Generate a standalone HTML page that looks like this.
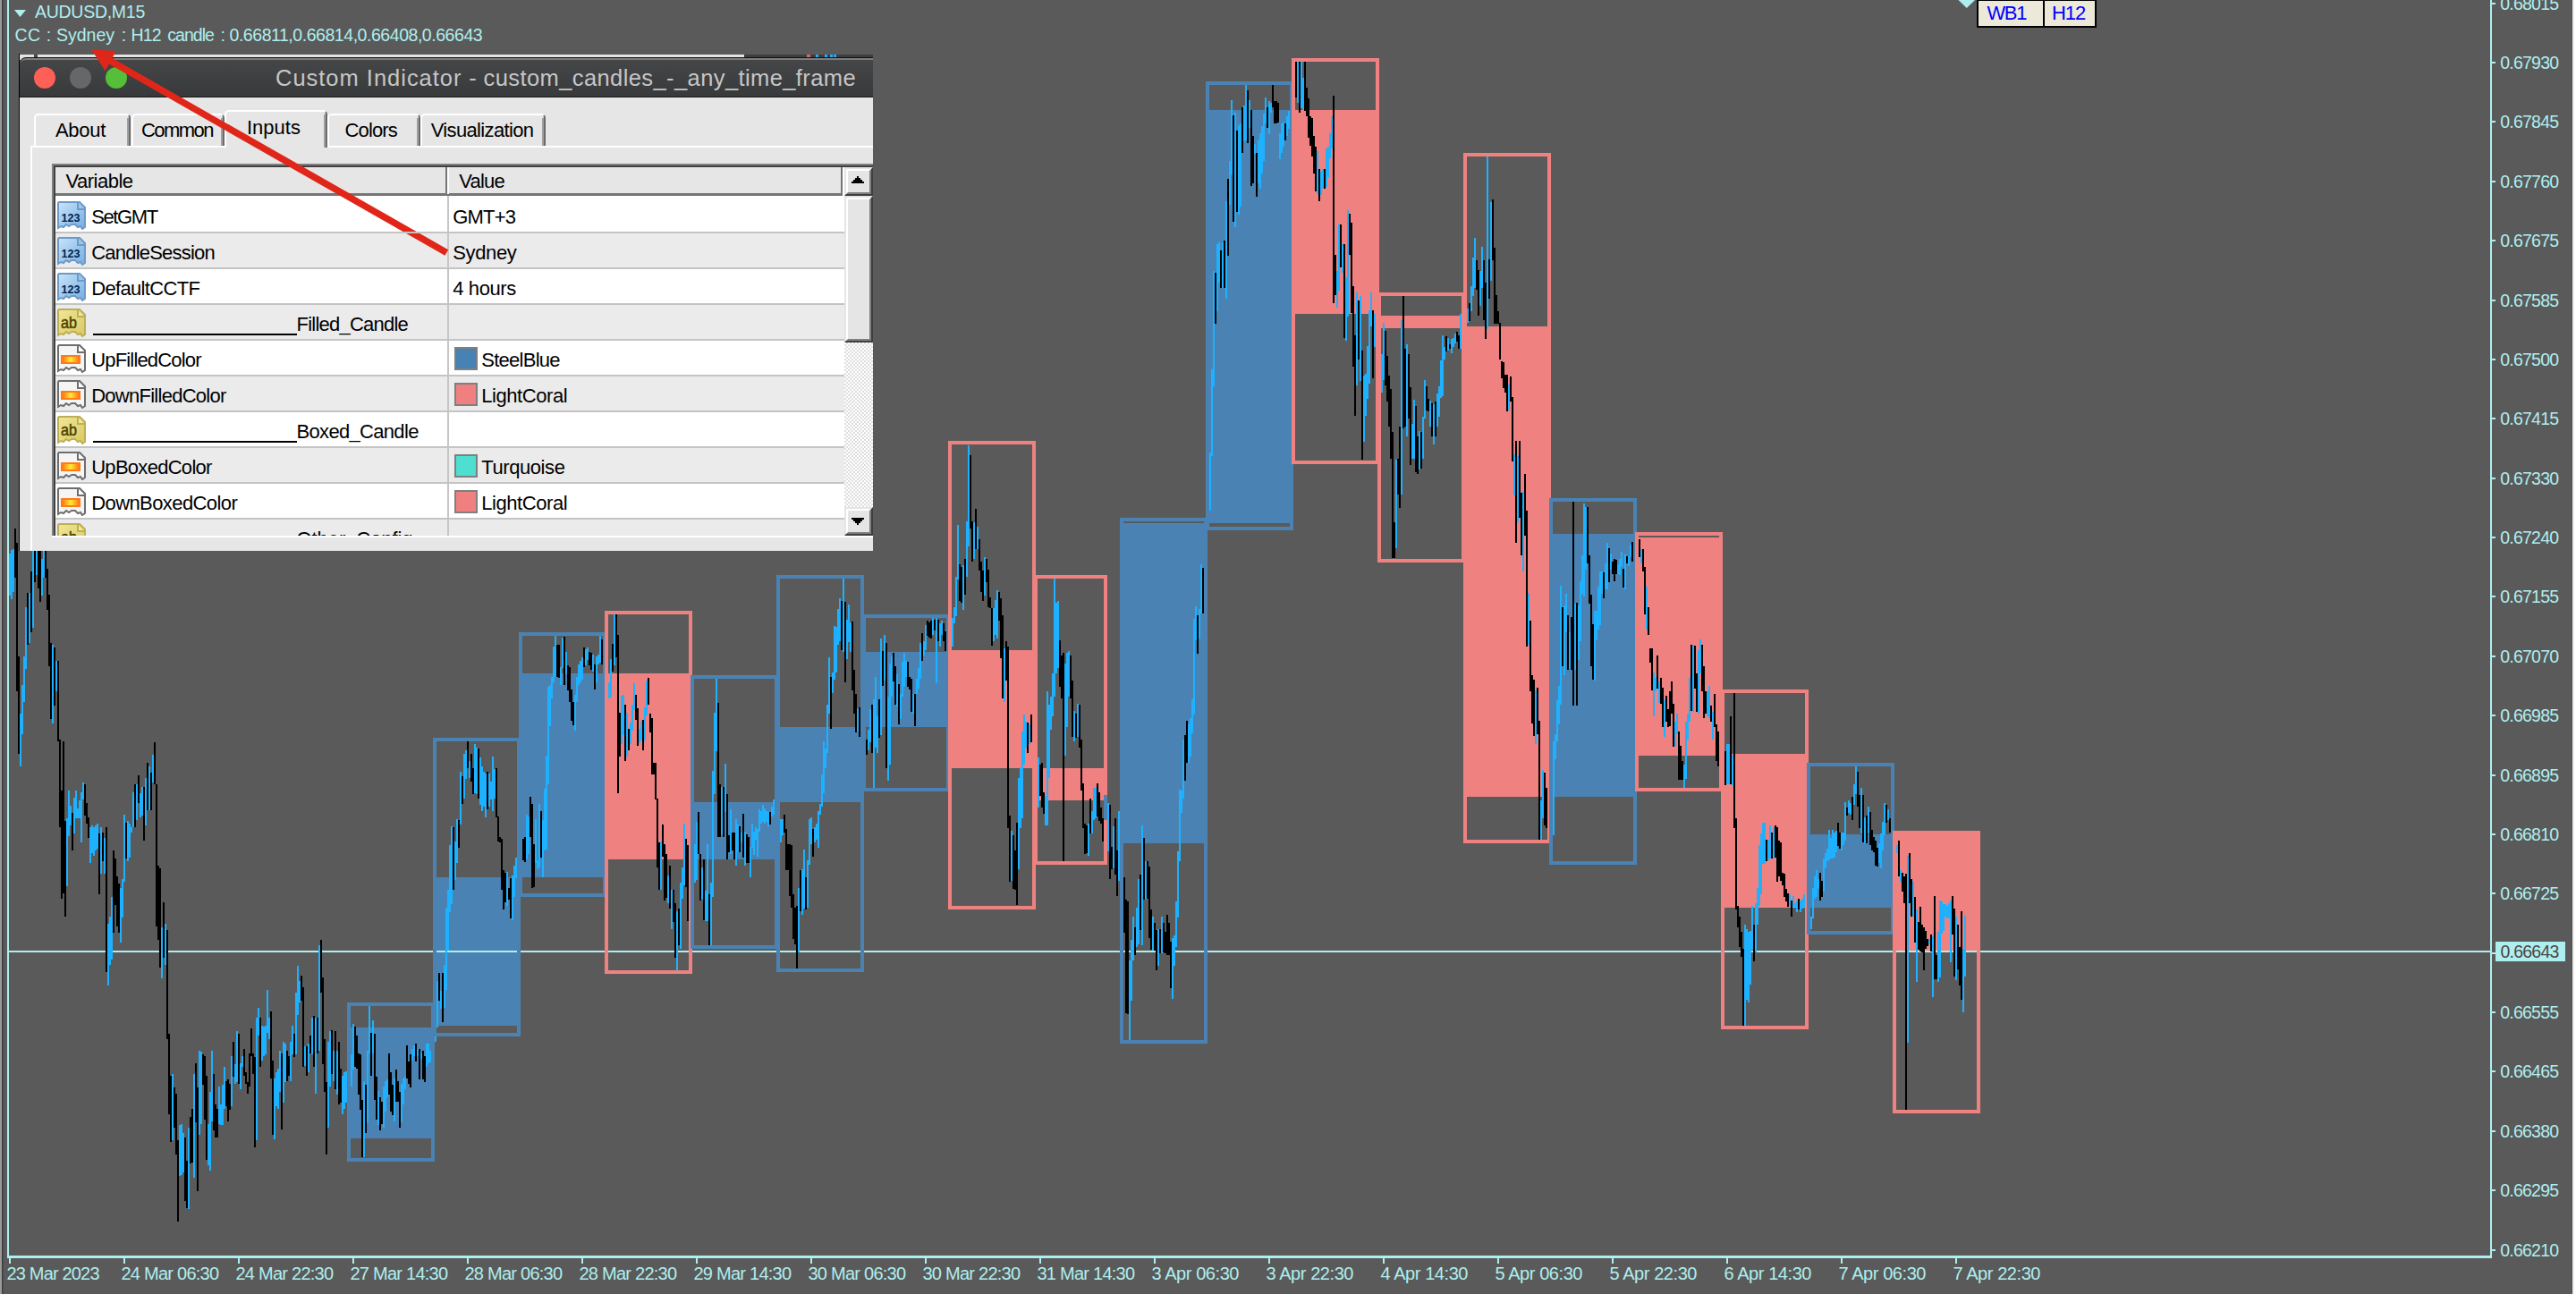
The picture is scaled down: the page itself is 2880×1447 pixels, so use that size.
<!DOCTYPE html>
<html><head><meta charset="utf-8"><title>AUDUSD,M15</title>
<style>

html,body{margin:0;padding:0;background:#5a5a5a;}
body{width:2880px;height:1447px;position:relative;overflow:hidden;font-family:"Liberation Sans",sans-serif;}
.abs{position:absolute;}
.t{position:absolute;white-space:nowrap;font-family:"Liberation Sans",sans-serif;}


.dlg{position:absolute;left:0;top:0;}
.row{position:absolute;left:62px;width:882px;height:38px;}
.sep{position:absolute;left:62px;width:882px;height:2px;background:#c6c6c6;}
.tab{position:absolute;background:#e6e6e6;box-sizing:border-box;border-top:2px solid #fff;border-left:2px solid #fff;border-right:2px solid #6a6a6a;border-top-left-radius:5px;border-top-right-radius:5px;}
.tab:after{content:"";position:absolute;right:0;top:3px;bottom:0;width:2px;background:#a0a0a0;}
.sw{position:absolute;left:508px;width:22px;height:22px;border:2px solid #7f7f7f;}

</style></head><body>
<svg class="abs" style="left:0;top:0" width="2880" height="1447" viewBox="0 0 2880 1447" shape-rendering="crispEdges">
<rect x="388" y="1149" width="98" height="124" fill="#4a83b3"/>
<rect x="484" y="981" width="98" height="166" fill="#4a83b3"/>
<rect x="580" y="753" width="98" height="228" fill="#4a83b3"/>
<rect x="676" y="753" width="98" height="208" fill="#ef8281"/>
<rect x="772" y="897" width="98" height="64" fill="#4a83b3"/>
<rect x="868" y="813" width="98" height="84" fill="#4a83b3"/>
<rect x="964" y="729" width="98" height="84" fill="#4a83b3"/>
<rect x="1060" y="727" width="98" height="132" fill="#ef8281"/>
<rect x="1156" y="859" width="82" height="36" fill="#ef8281"/>
<rect x="1252" y="585" width="98" height="358" fill="#4a83b3"/>
<rect x="1348" y="123" width="98" height="462" fill="#4a83b3"/>
<rect x="1444" y="123" width="98" height="228" fill="#ef8281"/>
<rect x="1540" y="353" width="98" height="14" fill="#ef8281"/>
<rect x="1636" y="365" width="98" height="526" fill="#ef8281"/>
<rect x="1732" y="597" width="98" height="294" fill="#4a83b3"/>
<rect x="1828" y="601" width="98" height="244" fill="#ef8281"/>
<rect x="1924" y="843" width="98" height="172" fill="#ef8281"/>
<rect x="2020" y="933" width="98" height="82" fill="#4a83b3"/>
<rect x="2116" y="929" width="98" height="134" fill="#ef8281"/>
<rect x="10" y="1063" width="2775" height="2" fill="#afeeee"/>
<path d="M16 591h2V646h-2zM18 607h2V773h-2zM20 734h2V843h-2zM30 663h2V721h-2zM34 639h2V707h-2zM38 594h2V651h-2zM42 594h2V658h-2zM44 594h2V673h-2zM50 594h2V646h-2zM52 636h2V682h-2zM54 665h2V745h-2zM56 719h2V804h-2zM60 724h2V789h-2zM64 739h2V829h-2zM66 827h2V925h-2zM68 884h2V1005h-2zM70 829h2V999h-2zM72 918h2V1025h-2zM80 909h2V951h-2zM94 877h2V912h-2zM96 898h2V921h-2zM98 914h2V937h-2zM110 932h2V1000h-2zM114 931h2V963h-2zM118 925h2V1087h-2zM126 951h2V1043h-2zM128 960h2V1012h-2zM130 980h2V1036h-2zM132 988h2V1043h-2zM140 920h2V960h-2zM150 877h2V925h-2zM154 867h2V898h-2zM160 880h2V940h-2zM164 853h2V906h-2zM168 864h2V906h-2zM172 830h2V877h-2zM174 877h2V1036h-2zM176 968h2V1051h-2zM178 971h2V1082h-2zM182 1009h2V1071h-2zM186 1040h2V1162h-2zM188 1156h2V1246h-2zM190 1203h2V1277h-2zM194 1216h2V1261h-2zM196 1223h2V1291h-2zM198 1275h2V1366h-2zM206 1272h2V1343h-2zM208 1298h2V1351h-2zM212 1249h2V1301h-2zM214 1240h2V1300h-2zM218 1189h2V1255h-2zM220 1216h2V1332h-2zM226 1179h2V1213h-2zM228 1181h2V1252h-2zM230 1203h2V1297h-2zM238 1201h2V1264h-2zM240 1235h2V1272h-2zM242 1240h2V1272h-2zM252 1209h2V1237h-2zM254 1207h2V1254h-2zM256 1212h2V1241h-2zM260 1165h2V1204h-2zM266 1156h2V1212h-2zM272 1173h2V1203h-2zM274 1199h2V1212h-2zM276 1210h2V1223h-2zM278 1178h2V1215h-2zM280 1150h2V1181h-2zM282 1178h2V1201h-2zM284 1182h2V1283h-2zM290 1138h2V1193h-2zM302 1131h2V1206h-2zM304 1186h2V1269h-2zM314 1178h2V1263h-2zM320 1175h2V1209h-2zM322 1181h2V1203h-2zM328 1156h2V1182h-2zM336 1091h2V1119h-2zM338 1104h2V1193h-2zM342 1170h2V1203h-2zM346 1158h2V1178h-2zM350 1136h2V1193h-2zM354 1138h2V1178h-2zM358 1051h2V1110h-2zM360 1093h2V1190h-2zM362 1162h2V1221h-2zM364 1210h2V1291h-2zM370 1152h2V1201h-2zM374 1153h2V1218h-2zM378 1165h2V1235h-2zM380 1195h2V1233h-2zM396 1148h2V1193h-2zM398 1158h2V1195h-2zM400 1178h2V1224h-2zM402 1179h2V1241h-2zM404 1230h2V1294h-2zM408 1213h2V1267h-2zM414 1155h2V1203h-2zM418 1156h2V1230h-2zM420 1204h2V1252h-2zM424 1227h2V1264h-2zM426 1232h2V1257h-2zM434 1178h2V1224h-2zM436 1199h2V1243h-2zM438 1213h2V1247h-2zM442 1196h2V1232h-2zM444 1209h2V1232h-2zM446 1221h2V1261h-2zM454 1169h2V1206h-2zM456 1187h2V1212h-2zM458 1179h2V1216h-2zM464 1167h2V1187h-2zM468 1173h2V1207h-2zM472 1175h2V1207h-2zM474 1181h2V1210h-2zM490 1088h2V1119h-2zM494 1088h2V1143h-2zM506 925h2V995h-2zM512 917h2V948h-2zM516 868h2V899h-2zM522 829h2V859h-2zM526 843h2V874h-2zM528 859h2V888h-2zM534 837h2V893h-2zM544 863h2V905h-2zM554 859h2V914h-2zM556 913h2V941h-2zM558 936h2V942h-2zM560 938h2V995h-2zM562 973h2V1017h-2zM564 976h2V1009h-2zM568 993h2V1006h-2zM570 982h2V1027h-2zM584 938h2V962h-2zM586 936h2V964h-2zM592 891h2V936h-2zM594 899h2V993h-2zM596 944h2V992h-2zM604 907h2V959h-2zM622 721h2V757h-2zM624 721h2V758h-2zM630 712h2V766h-2zM634 744h2V772h-2zM636 746h2V785h-2zM638 771h2V806h-2zM640 785h2V811h-2zM652 724h2V746h-2zM658 729h2V744h-2zM660 730h2V749h-2zM664 743h2V771h-2zM672 715h2V743h-2zM684 720h2V751h-2zM688 687h2V735h-2zM690 710h2V887h-2zM692 797h2V846h-2zM698 788h2V851h-2zM702 815h2V839h-2zM710 777h2V805h-2zM712 792h2V834h-2zM718 805h2V839h-2zM724 758h2V788h-2zM726 798h2V819h-2zM728 803h2V866h-2zM730 853h2V866h-2zM732 853h2V894h-2zM734 893h2V970h-2zM736 942h2V995h-2zM740 922h2V958h-2zM742 944h2V1007h-2zM744 955h2V1004h-2zM748 968h2V1016h-2zM752 995h2V1031h-2zM754 1010h2V1071h-2zM758 1016h2V1057h-2zM766 938h2V992h-2zM768 945h2V1030h-2zM770 970h2V1030h-2zM780 908h2V955h-2zM782 955h2V1007h-2zM786 961h2V1029h-2zM792 1000h2V1057h-2zM802 786h2V936h-2zM804 877h2V936h-2zM808 880h2V936h-2zM812 888h2V961h-2zM814 934h2V953h-2zM818 931h2V951h-2zM820 931h2V961h-2zM826 924h2V953h-2zM830 910h2V959h-2zM834 933h2V965h-2zM836 936h2V965h-2zM860 908h2V922h-2zM876 911h2V931h-2zM878 927h2V973h-2zM880 944h2V973h-2zM882 944h2V1002h-2zM884 945h2V1015h-2zM886 1000h2V1050h-2zM888 1015h2V1056h-2zM890 1013h2V1083h-2zM894 973h2V1019h-2zM900 981h2V1017h-2zM908 927h2V958h-2zM928 757h2V815h-2zM940 672h2V727h-2zM944 673h2V763h-2zM952 695h2V772h-2zM954 749h2V798h-2zM956 776h2V819h-2zM960 791h2V824h-2zM962 810h2V841h-2zM964 825h2V853h-2zM966 829h2V850h-2zM968 827h2V844h-2zM974 788h2V842h-2zM982 782h2V825h-2zM986 728h2V767h-2zM990 719h2V859h-2zM998 730h2V762h-2zM1000 745h2V788h-2zM1004 765h2V810h-2zM1014 740h2V768h-2zM1016 757h2V771h-2zM1018 759h2V796h-2zM1022 776h2V812h-2zM1030 708h2V739h-2zM1036 694h2V711h-2zM1038 696h2V713h-2zM1040 694h2V714h-2zM1044 693h2V705h-2zM1048 693h2V717h-2zM1054 697h2V717h-2zM1056 706h2V728h-2zM1072 631h2V672h-2zM1074 634h2V674h-2zM1078 625h2V665h-2zM1084 509h2V591h-2zM1086 583h2V628h-2zM1090 569h2V614h-2zM1094 603h2V638h-2zM1096 628h2V662h-2zM1098 638h2V672h-2zM1102 625h2V651h-2zM1104 637h2V679h-2zM1106 668h2V680h-2zM1108 680h2V722h-2zM1116 662h2V694h-2zM1118 669h2V736h-2zM1120 688h2V781h-2zM1124 717h2V761h-2zM1126 723h2V926h-2zM1128 912h2V986h-2zM1132 934h2V994h-2zM1134 951h2V995h-2zM1136 920h2V1012h-2zM1148 808h2V842h-2zM1152 799h2V830h-2zM1154 810h2V841h-2zM1156 825h2V856h-2zM1158 838h2V866h-2zM1162 855h2V890h-2zM1164 853h2V903h-2zM1166 886h2V910h-2zM1184 716h2V768h-2zM1186 733h2V781h-2zM1188 730h2V963h-2zM1196 733h2V781h-2zM1198 761h2V824h-2zM1202 798h2V825h-2zM1206 788h2V836h-2zM1208 827h2V884h-2zM1210 876h2V926h-2zM1212 921h2V955h-2zM1214 923h2V954h-2zM1218 893h2V932h-2zM1226 876h2V913h-2zM1228 886h2V918h-2zM1230 903h2V921h-2zM1232 915h2V941h-2zM1234 907h2V947h-2zM1240 900h2V983h-2zM1242 947h2V972h-2zM1246 915h2V978h-2zM1248 951h2V1002h-2zM1252 954h2V991h-2zM1254 966h2V1003h-2zM1256 981h2V1043h-2zM1258 1006h2V1133h-2zM1260 1008h2V1134h-2zM1268 1037h2V1068h-2zM1274 978h2V1040h-2zM1278 937h2V1006h-2zM1282 963h2V1005h-2zM1284 969h2V1049h-2zM1286 1017h2V1062h-2zM1290 1032h2V1063h-2zM1292 1040h2V1085h-2zM1296 1039h2V1066h-2zM1300 1032h2V1065h-2zM1302 1042h2V1066h-2zM1304 1023h2V1068h-2zM1306 1032h2V1068h-2zM1308 1053h2V1105h-2zM1324 822h2V873h-2zM1326 806h2V853h-2zM1338 688h2V731h-2zM1344 635h2V686h-2zM1358 305h2V362h-2zM1364 280h2V322h-2zM1368 269h2V322h-2zM1372 200h2V286h-2zM1378 129h2V248h-2zM1382 146h2V237h-2zM1388 120h2V171h-2zM1394 101h2V160h-2zM1398 123h2V208h-2zM1400 152h2V205h-2zM1404 171h2V220h-2zM1416 120h2V143h-2zM1422 95h2V120h-2zM1424 113h2V138h-2zM1426 113h2V138h-2zM1428 115h2V137h-2zM1436 138h2V157h-2zM1448 69h2V109h-2zM1452 69h2V126h-2zM1458 69h2V124h-2zM1460 98h2V130h-2zM1462 110h2V154h-2zM1464 130h2V163h-2zM1466 132h2V175h-2zM1468 152h2V194h-2zM1470 164h2V214h-2zM1474 189h2V225h-2zM1480 189h2V211h-2zM1490 107h2V339h-2zM1492 285h2V330h-2zM1498 251h2V299h-2zM1502 273h2V378h-2zM1508 239h2V285h-2zM1510 249h2V350h-2zM1512 320h2V410h-2zM1514 375h2V465h-2zM1518 336h2V402h-2zM1522 392h2V514h-2zM1534 347h2V423h-2zM1548 370h2V431h-2zM1550 398h2V449h-2zM1552 420h2V477h-2zM1554 435h2V513h-2zM1556 483h2V624h-2zM1558 584h2V624h-2zM1562 513h2V553h-2zM1564 477h2V568h-2zM1568 331h2V479h-2zM1570 390h2V477h-2zM1574 396h2V468h-2zM1576 433h2V520h-2zM1582 454h2V528h-2zM1584 488h2V530h-2zM1588 483h2V524h-2zM1594 432h2V459h-2zM1596 446h2V460h-2zM1600 451h2V488h-2zM1604 449h2V488h-2zM1616 376h2V393h-2zM1620 385h2V390h-2zM1628 371h2V382h-2zM1630 375h2V390h-2zM1642 339h2V359h-2zM1650 291h2V324h-2zM1652 302h2V353h-2zM1658 291h2V358h-2zM1660 316h2V379h-2zM1664 290h2V334h-2zM1668 223h2V291h-2zM1670 277h2V362h-2zM1672 330h2V362h-2zM1674 348h2V362h-2zM1676 361h2V402h-2zM1678 404h2V423h-2zM1680 405h2V434h-2zM1682 419h2V439h-2zM1684 419h2V460h-2zM1688 421h2V449h-2zM1690 444h2V516h-2zM1694 493h2V607h-2zM1698 493h2V579h-2zM1700 551h2V621h-2zM1704 530h2V599h-2zM1706 571h2V723h-2zM1710 694h2V773h-2zM1712 755h2V809h-2zM1714 760h2V823h-2zM1718 769h2V821h-2zM1720 806h2V939h-2zM1726 864h2V923h-2zM1728 881h2V926h-2zM1746 679h2V745h-2zM1752 688h2V749h-2zM1756 690h2V749h-2zM1758 561h2V789h-2zM1762 674h2V789h-2zM1774 567h2V630h-2zM1776 621h2V675h-2zM1778 665h2V745h-2zM1780 698h2V760h-2zM1792 640h2V669h-2zM1798 613h2V651h-2zM1802 628h2V642h-2zM1804 625h2V650h-2zM1806 626h2V642h-2zM1814 636h2V657h-2zM1818 622h2V630h-2zM1824 606h2V628h-2zM1830 602h2V620h-2zM1832 603h2V623h-2zM1836 614h2V639h-2zM1838 634h2V687h-2zM1842 679h2V710h-2zM1844 725h2V741h-2zM1846 725h2V772h-2zM1852 733h2V770h-2zM1856 758h2V787h-2zM1858 769h2V813h-2zM1862 778h2V807h-2zM1864 793h2V813h-2zM1866 773h2V812h-2zM1868 762h2V798h-2zM1870 787h2V835h-2zM1876 818h2V872h-2zM1878 834h2V872h-2zM1880 851h2V872h-2zM1890 721h2V795h-2zM1894 722h2V770h-2zM1896 753h2V796h-2zM1902 721h2V773h-2zM1904 745h2V803h-2zM1906 773h2V798h-2zM1912 789h2V807h-2zM1916 776h2V813h-2zM1918 810h2V851h-2zM1920 818h2V857h-2zM1922 835h2V857h-2zM1924 838h2V869h-2zM1926 840h2V875h-2zM1928 840h2V878h-2zM1934 801h2V877h-2zM1938 775h2V926h-2zM1940 915h2V1017h-2zM1942 1013h2V1037h-2zM1944 1025h2V1059h-2zM1946 1042h2V1070h-2zM1948 1061h2V1147h-2zM1960 1034h2V1075h-2zM1974 939h2V963h-2zM1980 931h2V960h-2zM1984 923h2V959h-2zM1986 925h2V986h-2zM1988 940h2V980h-2zM1990 942h2V985h-2zM1992 976h2V990h-2zM1994 977h2V1003h-2zM1996 994h2V1008h-2zM1998 999h2V1014h-2zM2002 1007h2V1025h-2zM2010 1005h2V1017h-2zM2034 976h2V1007h-2zM2036 985h2V1003h-2zM2054 920h2V946h-2zM2056 931h2V949h-2zM2064 903h2V912h-2zM2070 891h2V917h-2zM2076 863h2V902h-2zM2078 889h2V926h-2zM2082 889h2V942h-2zM2086 912h2V943h-2zM2090 908h2V945h-2zM2092 928h2V951h-2zM2094 936h2V953h-2zM2096 940h2V968h-2zM2098 948h2V969h-2zM2108 900h2V920h-2zM2112 915h2V931h-2zM2114 928h2V946h-2zM2116 940h2V956h-2zM2118 946h2V959h-2zM2122 940h2V980h-2zM2126 976h2V997h-2zM2128 980h2V1010h-2zM2130 977h2V1241h-2zM2134 954h2V1010h-2zM2136 983h2V1025h-2zM2140 1003h2V1054h-2zM2144 1031h2V1062h-2zM2146 1014h2V1064h-2zM2148 1034h2V1065h-2zM2150 1037h2V1085h-2zM2152 1041h2V1061h-2zM2154 1050h2V1058h-2zM2158 1045h2V1064h-2zM2162 1002h2V1095h-2zM2164 1068h2V1095h-2zM2182 1002h2V1045h-2zM2184 1016h2V1092h-2zM2188 1034h2V1084h-2zM2190 1059h2V1102h-2zM2192 1019h2V1118h-2z" fill="#000"/>
<path d="M10 619h2V666h-2zM12 615h2V670h-2zM14 614h2V662h-2zM22 798h2V857h-2zM24 766h2V821h-2zM26 734h2V785h-2zM28 679h2V748h-2zM32 663h2V719h-2zM36 594h2V702h-2zM40 594h2V643h-2zM46 625h2V666h-2zM48 594h2V646h-2zM58 721h2V809h-2zM62 739h2V773h-2zM74 915h2V991h-2zM76 884h2V935h-2zM78 901h2V923h-2zM82 892h2V932h-2zM84 884h2V915h-2zM86 904h2V915h-2zM88 895h2V915h-2zM90 886h2V942h-2zM92 875h2V894h-2zM100 925h2V965h-2zM102 923h2V954h-2zM104 925h2V957h-2zM106 923h2V951h-2zM108 921h2V949h-2zM112 925h2V977h-2zM116 937h2V977h-2zM120 1033h2V1102h-2zM122 1025h2V1079h-2zM124 1003h2V1073h-2zM134 993h2V1054h-2zM136 983h2V1026h-2zM138 911h2V986h-2zM142 918h2V963h-2zM144 921h2V959h-2zM146 925h2V931h-2zM148 886h2V925h-2zM152 877h2V917h-2zM156 887h2V914h-2zM158 880h2V912h-2zM162 870h2V923h-2zM166 857h2V906h-2zM170 844h2V875h-2zM180 1037h2V1094h-2zM184 1033h2V1079h-2zM192 1201h2V1275h-2zM200 1258h2V1315h-2zM202 1257h2V1314h-2zM204 1267h2V1311h-2zM210 1261h2V1352h-2zM216 1201h2V1317h-2zM222 1175h2V1269h-2zM224 1176h2V1257h-2zM232 1257h2V1303h-2zM234 1221h2V1309h-2zM236 1175h2V1254h-2zM244 1215h2V1257h-2zM246 1235h2V1258h-2zM248 1213h2V1258h-2zM250 1193h2V1240h-2zM258 1181h2V1237h-2zM262 1190h2V1212h-2zM264 1153h2V1210h-2zM268 1189h2V1218h-2zM270 1181h2V1193h-2zM286 1138h2V1275h-2zM288 1127h2V1158h-2zM292 1147h2V1186h-2zM294 1148h2V1181h-2zM296 1147h2V1179h-2zM298 1107h2V1155h-2zM300 1138h2V1162h-2zM306 1206h2V1274h-2zM308 1199h2V1237h-2zM310 1195h2V1240h-2zM312 1175h2V1221h-2zM316 1165h2V1233h-2zM318 1167h2V1210h-2zM324 1165h2V1209h-2zM326 1147h2V1179h-2zM330 1110h2V1179h-2zM332 1080h2V1135h-2zM334 1097h2V1121h-2zM340 1170h2V1192h-2zM344 1167h2V1199h-2zM348 1138h2V1179h-2zM352 1138h2V1223h-2zM356 1057h2V1175h-2zM366 1165h2V1261h-2zM368 1153h2V1215h-2zM372 1175h2V1209h-2zM376 1175h2V1224h-2zM382 1203h2V1246h-2zM384 1199h2V1240h-2zM386 1198h2V1233h-2zM388 1196h2V1227h-2zM390 1190h2V1224h-2zM392 1179h2V1215h-2zM394 1145h2V1196h-2zM406 1209h2V1294h-2zM410 1175h2V1255h-2zM412 1125h2V1178h-2zM416 1141h2V1178h-2zM422 1220h2V1258h-2zM428 1215h2V1261h-2zM430 1209h2V1243h-2zM432 1207h2V1227h-2zM440 1206h2V1254h-2zM448 1212h2V1255h-2zM450 1206h2V1235h-2zM452 1204h2V1218h-2zM460 1173h2V1186h-2zM462 1169h2V1181h-2zM466 1173h2V1181h-2zM470 1178h2V1184h-2zM476 1167h2V1193h-2zM478 1167h2V1189h-2zM480 1175h2V1188h-2zM482 1165h2V1184h-2zM484 1153h2V1178h-2zM486 1125h2V1165h-2zM488 1097h2V1149h-2zM492 1108h2V1128h-2zM496 1079h2V1127h-2zM498 1015h2V1107h-2zM500 995h2V1063h-2zM502 945h2V1020h-2zM504 924h2V1011h-2zM508 941h2V984h-2zM510 916h2V965h-2zM514 863h2V922h-2zM518 843h2V893h-2zM520 839h2V871h-2zM524 851h2V870h-2zM530 832h2V887h-2zM532 836h2V888h-2zM536 847h2V900h-2zM538 857h2V907h-2zM540 863h2V902h-2zM542 865h2V914h-2zM546 865h2V902h-2zM548 874h2V894h-2zM550 846h2V907h-2zM552 860h2V893h-2zM566 975h2V1013h-2zM572 979h2V1029h-2zM574 968h2V1003h-2zM576 959h2V982h-2zM578 958h2V970h-2zM580 951h2V967h-2zM582 945h2V965h-2zM588 911h2V961h-2zM590 913h2V955h-2zM598 916h2V965h-2zM600 962h2V972h-2zM602 899h2V970h-2zM606 917h2V981h-2zM608 882h2V951h-2zM610 845h2V950h-2zM612 768h2V877h-2zM614 766h2V812h-2zM616 757h2V781h-2zM618 723h2V763h-2zM620 710h2V757h-2zM626 746h2V766h-2zM628 713h2V747h-2zM632 729h2V754h-2zM642 777h2V817h-2zM644 757h2V785h-2zM646 743h2V766h-2zM648 739h2V763h-2zM650 735h2V760h-2zM654 726h2V744h-2zM656 724h2V738h-2zM662 732h2V751h-2zM666 734h2V763h-2zM668 732h2V743h-2zM670 710h2V741h-2zM674 723h2V754h-2zM676 747h2V775h-2zM678 760h2V781h-2zM680 763h2V781h-2zM682 737h2V780h-2zM686 687h2V744h-2zM694 778h2V832h-2zM696 777h2V822h-2zM700 797h2V846h-2zM704 808h2V832h-2zM706 788h2V817h-2zM708 764h2V794h-2zM714 815h2V831h-2zM716 806h2V828h-2zM720 791h2V828h-2zM722 761h2V800h-2zM738 941h2V995h-2zM746 979h2V1010h-2zM750 995h2V1039h-2zM756 1019h2V1085h-2zM760 987h2V1061h-2zM762 970h2V1005h-2zM764 921h2V990h-2zM772 976h2V1030h-2zM774 958h2V1001h-2zM776 944h2V987h-2zM778 919h2V984h-2zM784 970h2V1006h-2zM788 996h2V1030h-2zM790 944h2V1030h-2zM794 987h2V1057h-2zM796 862h2V1003h-2zM798 797h2V888h-2zM800 758h2V840h-2zM806 880h2V933h-2zM810 854h2V908h-2zM816 905h2V955h-2zM822 916h2V968h-2zM824 922h2V953h-2zM828 931h2V942h-2zM832 930h2V968h-2zM838 947h2V981h-2zM840 921h2V948h-2zM842 930h2V956h-2zM844 925h2V939h-2zM846 927h2V958h-2zM848 905h2V930h-2zM850 907h2V921h-2zM852 900h2V919h-2zM854 904h2V921h-2zM856 907h2V919h-2zM858 908h2V924h-2zM862 902h2V913h-2zM864 894h2V911h-2zM866 899h2V921h-2zM868 908h2V936h-2zM870 914h2V939h-2zM872 916h2V942h-2zM874 916h2V934h-2zM892 993h2V1065h-2zM896 972h2V1023h-2zM898 950h2V1016h-2zM902 962h2V1015h-2zM904 916h2V967h-2zM906 914h2V944h-2zM910 925h2V942h-2zM912 921h2V939h-2zM914 907h2V948h-2zM916 899h2V911h-2zM918 866h2V902h-2zM920 829h2V887h-2zM922 837h2V859h-2zM924 788h2V842h-2zM926 735h2V798h-2zM930 752h2V775h-2zM932 700h2V760h-2zM934 701h2V752h-2zM936 681h2V721h-2zM938 669h2V717h-2zM942 646h2V729h-2zM946 693h2V737h-2zM948 676h2V718h-2zM950 696h2V729h-2zM958 792h2V818h-2zM970 816h2V839h-2zM972 793h2V830h-2zM976 782h2V881h-2zM978 757h2V836h-2zM980 801h2V842h-2zM984 714h2V822h-2zM988 710h2V761h-2zM992 779h2V873h-2zM994 742h2V855h-2zM996 734h2V779h-2zM1002 754h2V790h-2zM1006 776h2V804h-2zM1008 740h2V779h-2zM1010 730h2V768h-2zM1012 739h2V757h-2zM1020 776h2V798h-2zM1024 759h2V776h-2zM1026 747h2V770h-2zM1028 719h2V759h-2zM1032 717h2V733h-2zM1034 699h2V727h-2zM1042 691h2V710h-2zM1046 691h2V764h-2zM1050 697h2V723h-2zM1052 694h2V710h-2zM1058 705h2V727h-2zM1060 699h2V725h-2zM1062 694h2V723h-2zM1064 691h2V723h-2zM1066 679h2V697h-2zM1068 645h2V689h-2zM1070 587h2V648h-2zM1076 632h2V682h-2zM1080 583h2V645h-2zM1082 498h2V611h-2zM1088 584h2V625h-2zM1092 589h2V614h-2zM1100 623h2V666h-2zM1110 680h2V717h-2zM1112 671h2V710h-2zM1114 660h2V714h-2zM1122 725h2V785h-2zM1130 929h2V985h-2zM1138 870h2V972h-2zM1140 858h2V926h-2zM1142 818h2V915h-2zM1144 799h2V855h-2zM1146 807h2V836h-2zM1150 810h2V832h-2zM1160 847h2V903h-2zM1168 890h2V923h-2zM1170 773h2V923h-2zM1172 788h2V870h-2zM1174 779h2V816h-2zM1176 753h2V801h-2zM1178 646h2V779h-2zM1180 674h2V753h-2zM1182 672h2V747h-2zM1190 742h2V845h-2zM1192 730h2V813h-2zM1194 728h2V779h-2zM1200 795h2V829h-2zM1204 787h2V824h-2zM1216 921h2V957h-2zM1220 907h2V932h-2zM1222 881h2V917h-2zM1224 881h2V915h-2zM1236 901h2V951h-2zM1238 898h2V952h-2zM1244 924h2V971h-2zM1250 907h2V985h-2zM1262 1074h2V1164h-2zM1264 1051h2V1119h-2zM1266 1025h2V1074h-2zM1270 1015h2V1059h-2zM1272 983h2V1056h-2zM1276 923h2V1057h-2zM1280 963h2V1006h-2zM1288 1025h2V1063h-2zM1294 1039h2V1080h-2zM1298 1025h2V1066h-2zM1310 1049h2V1117h-2zM1312 1046h2V1080h-2zM1314 1008h2V1059h-2zM1316 952h2V1026h-2zM1318 883h2V963h-2zM1320 884h2V909h-2zM1322 827h2V893h-2zM1328 810h2V853h-2zM1330 803h2V846h-2zM1332 782h2V820h-2zM1334 692h2V799h-2zM1336 678h2V716h-2zM1340 681h2V714h-2zM1342 631h2V686h-2zM1346 593h2V643h-2zM1348 568h2V609h-2zM1350 532h2V581h-2zM1352 506h2V571h-2zM1354 413h2V510h-2zM1356 303h2V432h-2zM1360 273h2V348h-2zM1362 271h2V316h-2zM1366 271h2V322h-2zM1370 225h2V334h-2zM1374 180h2V229h-2zM1376 112h2V195h-2zM1380 126h2V254h-2zM1384 140h2V240h-2zM1386 138h2V231h-2zM1390 118h2V158h-2zM1392 95h2V157h-2zM1396 112h2V143h-2zM1402 161h2V172h-2zM1406 157h2V205h-2zM1408 149h2V211h-2zM1410 141h2V194h-2zM1412 127h2V180h-2zM1414 109h2V138h-2zM1418 113h2V150h-2zM1420 115h2V126h-2zM1430 149h2V178h-2zM1432 138h2V171h-2zM1434 137h2V164h-2zM1438 130h2V152h-2zM1440 124h2V144h-2zM1442 112h2V140h-2zM1444 96h2V130h-2zM1446 81h2V121h-2zM1450 69h2V115h-2zM1454 69h2V121h-2zM1456 87h2V123h-2zM1472 169h2V217h-2zM1476 192h2V218h-2zM1478 189h2V211h-2zM1482 166h2V209h-2zM1484 164h2V198h-2zM1486 149h2V177h-2zM1488 130h2V166h-2zM1494 303h2V344h-2zM1496 251h2V325h-2zM1500 273h2V305h-2zM1504 310h2V381h-2zM1506 235h2V354h-2zM1516 327h2V431h-2zM1520 331h2V426h-2zM1524 420h2V494h-2zM1526 418h2V465h-2zM1528 387h2V446h-2zM1530 347h2V429h-2zM1532 327h2V365h-2zM1536 351h2V388h-2zM1538 359h2V405h-2zM1540 375h2V421h-2zM1542 387h2V433h-2zM1544 396h2V439h-2zM1546 361h2V425h-2zM1560 514h2V613h-2zM1566 358h2V553h-2zM1572 385h2V488h-2zM1578 474h2V513h-2zM1580 447h2V513h-2zM1586 482h2V525h-2zM1590 466h2V513h-2zM1592 425h2V468h-2zM1598 448h2V477h-2zM1602 452h2V497h-2zM1606 440h2V477h-2zM1608 432h2V466h-2zM1610 403h2V445h-2zM1612 375h2V443h-2zM1614 388h2V402h-2zM1618 378h2V392h-2zM1622 379h2V395h-2zM1624 378h2V388h-2zM1626 373h2V384h-2zM1632 351h2V390h-2zM1634 347h2V378h-2zM1636 344h2V368h-2zM1638 344h2V362h-2zM1640 345h2V361h-2zM1644 320h2V348h-2zM1646 288h2V331h-2zM1648 266h2V322h-2zM1654 303h2V342h-2zM1656 276h2V322h-2zM1662 175h2V368h-2zM1666 226h2V314h-2zM1686 430h2V459h-2zM1692 508h2V554h-2zM1696 510h2V584h-2zM1702 550h2V639h-2zM1708 663h2V721h-2zM1716 772h2V832h-2zM1722 895h2V939h-2zM1724 861h2V915h-2zM1736 829h2V934h-2zM1738 821h2V849h-2zM1740 783h2V829h-2zM1742 767h2V810h-2zM1744 655h2V788h-2zM1748 677h2V755h-2zM1750 664h2V707h-2zM1754 707h2V748h-2zM1760 675h2V749h-2zM1764 677h2V738h-2zM1766 650h2V717h-2zM1768 621h2V664h-2zM1770 563h2V667h-2zM1772 567h2V637h-2zM1782 683h2V761h-2zM1784 683h2V716h-2zM1786 656h2V704h-2zM1788 639h2V699h-2zM1790 639h2V664h-2zM1794 630h2V659h-2zM1796 607h2V659h-2zM1800 619h2V637h-2zM1808 631h2V642h-2zM1810 625h2V643h-2zM1812 617h2V634h-2zM1816 620h2V659h-2zM1820 622h2V633h-2zM1822 609h2V623h-2zM1826 603h2V622h-2zM1828 600h2V619h-2zM1834 614h2V630h-2zM1840 656h2V704h-2zM1848 752h2V801h-2zM1850 758h2V773h-2zM1854 762h2V786h-2zM1860 783h2V824h-2zM1872 807h2V835h-2zM1874 798h2V821h-2zM1882 855h2V881h-2zM1884 807h2V871h-2zM1886 798h2V827h-2zM1888 758h2V807h-2zM1892 721h2V796h-2zM1898 727h2V798h-2zM1900 715h2V753h-2zM1908 773h2V801h-2zM1910 767h2V803h-2zM1914 796h2V827h-2zM1930 832h2V877h-2zM1932 832h2V877h-2zM1936 844h2V878h-2zM1950 1034h2V1147h-2zM1952 1039h2V1118h-2zM1954 1042h2V1121h-2zM1956 1041h2V1101h-2zM1958 1013h2V1062h-2zM1962 1010h2V1065h-2zM1964 993h2V1034h-2zM1966 945h2V1013h-2zM1968 932h2V1000h-2zM1970 920h2V966h-2zM1972 920h2V966h-2zM1976 939h2V962h-2zM1978 923h2V960h-2zM1982 925h2V960h-2zM2000 1000h2V1013h-2zM2004 1002h2V1014h-2zM2006 1010h2V1014h-2zM2008 1007h2V1020h-2zM2012 1007h2V1020h-2zM2014 1005h2V1016h-2zM2016 1000h2V1014h-2zM2018 1003h2V1022h-2zM2020 1008h2V1028h-2zM2022 1013h2V1034h-2zM2024 1025h2V1039h-2zM2026 993h2V1027h-2zM2028 980h2V1005h-2zM2030 973h2V1003h-2zM2032 983h2V994h-2zM2038 960h2V997h-2zM2040 954h2V971h-2zM2042 949h2V963h-2zM2044 928h2V962h-2zM2046 937h2V960h-2zM2048 928h2V960h-2zM2050 931h2V959h-2zM2052 929h2V953h-2zM2058 931h2V951h-2zM2060 931h2V945h-2zM2062 897h2V940h-2zM2066 895h2V909h-2zM2068 898h2V911h-2zM2072 877h2V900h-2zM2074 857h2V888h-2zM2080 881h2V932h-2zM2084 914h2V943h-2zM2088 902h2V932h-2zM2100 943h2V965h-2zM2102 932h2V971h-2zM2104 919h2V951h-2zM2106 898h2V934h-2zM2110 905h2V917h-2zM2120 945h2V954h-2zM2124 973h2V986h-2zM2132 957h2V1166h-2zM2138 986h2V1025h-2zM2142 1017h2V1098h-2zM2156 1050h2V1056h-2zM2160 1047h2V1115h-2zM2166 1042h2V1098h-2zM2168 1007h2V1093h-2zM2170 1008h2V1044h-2zM2172 1011h2V1041h-2zM2174 1011h2V1025h-2zM2176 1013h2V1027h-2zM2178 1010h2V1027h-2zM2180 1007h2V1076h-2zM2186 1025h2V1096h-2zM2194 1061h2V1132h-2zM2196 1024h2V1092h-2z" fill="#1eb1ff"/>
<rect x="390" y="1123" width="94" height="174" fill="none" stroke="#4a83b3" stroke-width="4"/>
<rect x="486" y="827" width="94" height="330" fill="none" stroke="#4a83b3" stroke-width="4"/>
<rect x="582" y="709" width="94" height="292" fill="none" stroke="#4a83b3" stroke-width="4"/>
<rect x="678" y="685" width="94" height="402" fill="none" stroke="#ef8281" stroke-width="4"/>
<rect x="774" y="757" width="94" height="302" fill="none" stroke="#4a83b3" stroke-width="4"/>
<rect x="870" y="645" width="94" height="440" fill="none" stroke="#4a83b3" stroke-width="4"/>
<rect x="966" y="689" width="94" height="194" fill="none" stroke="#4a83b3" stroke-width="4"/>
<rect x="1062" y="495" width="94" height="520" fill="none" stroke="#ef8281" stroke-width="4"/>
<rect x="1158" y="645" width="78" height="320" fill="none" stroke="#ef8281" stroke-width="4"/>
<rect x="1254" y="581" width="94" height="584" fill="none" stroke="#4a83b3" stroke-width="4"/>
<rect x="1350" y="93" width="94" height="498" fill="none" stroke="#4a83b3" stroke-width="4"/>
<rect x="1446" y="67" width="94" height="450" fill="none" stroke="#ef8281" stroke-width="4"/>
<rect x="1542" y="329" width="94" height="298" fill="none" stroke="#ef8281" stroke-width="4"/>
<rect x="1638" y="173" width="94" height="768" fill="none" stroke="#ef8281" stroke-width="4"/>
<rect x="1734" y="559" width="94" height="406" fill="none" stroke="#4a83b3" stroke-width="4"/>
<rect x="1830" y="597" width="94" height="286" fill="none" stroke="#ef8281" stroke-width="4"/>
<rect x="1926" y="773" width="94" height="376" fill="none" stroke="#ef8281" stroke-width="4"/>
<rect x="2022" y="855" width="94" height="188" fill="none" stroke="#4a83b3" stroke-width="4"/>
<rect x="2118" y="931" width="94" height="312" fill="none" stroke="#ef8281" stroke-width="4"/>
<rect x="1234" y="889" width="4" height="28" fill="#4a83b3"/>
</svg>
<div class="abs" style="left:0;top:0;width:4px;height:1447px;background:linear-gradient(90deg,#9b9b9b 0,#9b9b9b 2px,#3d3d3d 2px,#3d3d3d 3px,#4c4c4c 3px,#4c4c4c 4px)"></div>
<div class="abs" style="left:2875px;top:0;width:5px;height:1447px;background:linear-gradient(90deg,#4e4e4e 0,#4e4e4e 1px,#ececec 1px,#ececec 3px,#fff 3px,#fff 5px)"></div>
<div class="abs" style="left:8px;top:0;width:2.4px;height:1407px;background:#afeeee"></div>
<div class="abs" style="left:8px;top:1404px;width:2778px;height:3px;background:#afeeee"></div>
<div class="abs" style="left:2784px;top:0;width:2px;height:1407px;background:#afeeee"></div>
<div class="abs" style="left:2786px;top:3.0px;width:4px;height:2px;background:#afeeee"></div>
<div class="t" style="left:2795.30px;top:-5.65px;font-size:19.5px;line-height:21.78px;color:#afeeee;letter-spacing:-0.784px;">0.68015</div>
<div class="abs" style="left:2786px;top:69.0px;width:4px;height:2px;background:#afeeee"></div>
<div class="t" style="left:2795.30px;top:60.35px;font-size:19.5px;line-height:21.78px;color:#afeeee;letter-spacing:-0.784px;">0.67930</div>
<div class="abs" style="left:2786px;top:135.0px;width:4px;height:2px;background:#afeeee"></div>
<div class="t" style="left:2795.30px;top:126.35px;font-size:19.5px;line-height:21.78px;color:#afeeee;letter-spacing:-0.784px;">0.67845</div>
<div class="abs" style="left:2786px;top:202.0px;width:4px;height:2px;background:#afeeee"></div>
<div class="t" style="left:2795.30px;top:193.35px;font-size:19.5px;line-height:21.78px;color:#afeeee;letter-spacing:-0.784px;">0.67760</div>
<div class="abs" style="left:2786px;top:268.0px;width:4px;height:2px;background:#afeeee"></div>
<div class="t" style="left:2795.30px;top:259.35px;font-size:19.5px;line-height:21.78px;color:#afeeee;letter-spacing:-0.784px;">0.67675</div>
<div class="abs" style="left:2786px;top:335.0px;width:4px;height:2px;background:#afeeee"></div>
<div class="t" style="left:2795.30px;top:326.35px;font-size:19.5px;line-height:21.78px;color:#afeeee;letter-spacing:-0.784px;">0.67585</div>
<div class="abs" style="left:2786px;top:401.0px;width:4px;height:2px;background:#afeeee"></div>
<div class="t" style="left:2795.30px;top:392.35px;font-size:19.5px;line-height:21.78px;color:#afeeee;letter-spacing:-0.784px;">0.67500</div>
<div class="abs" style="left:2786px;top:467.0px;width:4px;height:2px;background:#afeeee"></div>
<div class="t" style="left:2795.30px;top:458.35px;font-size:19.5px;line-height:21.78px;color:#afeeee;letter-spacing:-0.784px;">0.67415</div>
<div class="abs" style="left:2786px;top:534.0px;width:4px;height:2px;background:#afeeee"></div>
<div class="t" style="left:2795.30px;top:525.35px;font-size:19.5px;line-height:21.78px;color:#afeeee;letter-spacing:-0.784px;">0.67330</div>
<div class="abs" style="left:2786px;top:600.0px;width:4px;height:2px;background:#afeeee"></div>
<div class="t" style="left:2795.30px;top:591.35px;font-size:19.5px;line-height:21.78px;color:#afeeee;letter-spacing:-0.784px;">0.67240</div>
<div class="abs" style="left:2786px;top:666.0px;width:4px;height:2px;background:#afeeee"></div>
<div class="t" style="left:2795.30px;top:657.35px;font-size:19.5px;line-height:21.78px;color:#afeeee;letter-spacing:-0.784px;">0.67155</div>
<div class="abs" style="left:2786px;top:733.0px;width:4px;height:2px;background:#afeeee"></div>
<div class="t" style="left:2795.30px;top:724.35px;font-size:19.5px;line-height:21.78px;color:#afeeee;letter-spacing:-0.784px;">0.67070</div>
<div class="abs" style="left:2786px;top:799.0px;width:4px;height:2px;background:#afeeee"></div>
<div class="t" style="left:2795.30px;top:790.35px;font-size:19.5px;line-height:21.78px;color:#afeeee;letter-spacing:-0.784px;">0.66985</div>
<div class="abs" style="left:2786px;top:866.0px;width:4px;height:2px;background:#afeeee"></div>
<div class="t" style="left:2795.30px;top:857.35px;font-size:19.5px;line-height:21.78px;color:#afeeee;letter-spacing:-0.784px;">0.66895</div>
<div class="abs" style="left:2786px;top:932.0px;width:4px;height:2px;background:#afeeee"></div>
<div class="t" style="left:2795.30px;top:923.35px;font-size:19.5px;line-height:21.78px;color:#afeeee;letter-spacing:-0.784px;">0.66810</div>
<div class="abs" style="left:2786px;top:998.0px;width:4px;height:2px;background:#afeeee"></div>
<div class="t" style="left:2795.30px;top:989.35px;font-size:19.5px;line-height:21.78px;color:#afeeee;letter-spacing:-0.784px;">0.66725</div>
<div class="abs" style="left:2786px;top:1131.0px;width:4px;height:2px;background:#afeeee"></div>
<div class="t" style="left:2795.30px;top:1122.35px;font-size:19.5px;line-height:21.78px;color:#afeeee;letter-spacing:-0.784px;">0.66555</div>
<div class="abs" style="left:2786px;top:1197.0px;width:4px;height:2px;background:#afeeee"></div>
<div class="t" style="left:2795.30px;top:1188.35px;font-size:19.5px;line-height:21.78px;color:#afeeee;letter-spacing:-0.784px;">0.66465</div>
<div class="abs" style="left:2786px;top:1264.0px;width:4px;height:2px;background:#afeeee"></div>
<div class="t" style="left:2795.30px;top:1255.35px;font-size:19.5px;line-height:21.78px;color:#afeeee;letter-spacing:-0.784px;">0.66380</div>
<div class="abs" style="left:2786px;top:1330.0px;width:4px;height:2px;background:#afeeee"></div>
<div class="t" style="left:2795.30px;top:1321.35px;font-size:19.5px;line-height:21.78px;color:#afeeee;letter-spacing:-0.784px;">0.66295</div>
<div class="abs" style="left:2786px;top:1397.0px;width:4px;height:2px;background:#afeeee"></div>
<div class="t" style="left:2795.30px;top:1388.35px;font-size:19.5px;line-height:21.78px;color:#afeeee;letter-spacing:-0.784px;">0.66210</div>
<div class="abs" style="left:2790px;top:1053px;width:78px;height:22px;background:#afeeee"></div>
<div class="abs" style="left:2786px;top:1064.5px;width:4px;height:2.5px;background:#afeeee"></div>
<div class="t" style="left:2795.50px;top:1053.55px;font-size:19.5px;line-height:21.78px;color:#4c4646;letter-spacing:-0.784px;">0.66643</div>
<div class="abs" style="left:9.5px;top:1407px;width:2px;height:6px;background:#afeeee"></div>
<div class="t" style="left:7.50px;top:1413.40px;font-size:20px;line-height:22.34px;color:#afeeee;letter-spacing:-0.827px;">23 Mar 2023</div>
<div class="abs" style="left:137.5px;top:1407px;width:2px;height:6px;background:#afeeee"></div>
<div class="t" style="left:135.50px;top:1413.40px;font-size:20px;line-height:22.34px;color:#afeeee;letter-spacing:-0.755px;">24 Mar 06:30</div>
<div class="abs" style="left:265.5px;top:1407px;width:2px;height:6px;background:#afeeee"></div>
<div class="t" style="left:263.50px;top:1413.40px;font-size:20px;line-height:22.34px;color:#afeeee;letter-spacing:-0.755px;">24 Mar 22:30</div>
<div class="abs" style="left:393.5px;top:1407px;width:2px;height:6px;background:#afeeee"></div>
<div class="t" style="left:391.50px;top:1413.40px;font-size:20px;line-height:22.34px;color:#afeeee;letter-spacing:-0.755px;">27 Mar 14:30</div>
<div class="abs" style="left:521.5px;top:1407px;width:2px;height:6px;background:#afeeee"></div>
<div class="t" style="left:519.50px;top:1413.40px;font-size:20px;line-height:22.34px;color:#afeeee;letter-spacing:-0.755px;">28 Mar 06:30</div>
<div class="abs" style="left:649.5px;top:1407px;width:2px;height:6px;background:#afeeee"></div>
<div class="t" style="left:647.50px;top:1413.40px;font-size:20px;line-height:22.34px;color:#afeeee;letter-spacing:-0.755px;">28 Mar 22:30</div>
<div class="abs" style="left:777.5px;top:1407px;width:2px;height:6px;background:#afeeee"></div>
<div class="t" style="left:775.50px;top:1413.40px;font-size:20px;line-height:22.34px;color:#afeeee;letter-spacing:-0.755px;">29 Mar 14:30</div>
<div class="abs" style="left:905.5px;top:1407px;width:2px;height:6px;background:#afeeee"></div>
<div class="t" style="left:903.50px;top:1413.40px;font-size:20px;line-height:22.34px;color:#afeeee;letter-spacing:-0.755px;">30 Mar 06:30</div>
<div class="abs" style="left:1033.5px;top:1407px;width:2px;height:6px;background:#afeeee"></div>
<div class="t" style="left:1031.50px;top:1413.40px;font-size:20px;line-height:22.34px;color:#afeeee;letter-spacing:-0.755px;">30 Mar 22:30</div>
<div class="abs" style="left:1161.5px;top:1407px;width:2px;height:6px;background:#afeeee"></div>
<div class="t" style="left:1159.50px;top:1413.40px;font-size:20px;line-height:22.34px;color:#afeeee;letter-spacing:-0.755px;">31 Mar 14:30</div>
<div class="abs" style="left:1289.5px;top:1407px;width:2px;height:6px;background:#afeeee"></div>
<div class="t" style="left:1287.50px;top:1413.40px;font-size:20px;line-height:22.34px;color:#afeeee;letter-spacing:-0.437px;">3 Apr 06:30</div>
<div class="abs" style="left:1417.5px;top:1407px;width:2px;height:6px;background:#afeeee"></div>
<div class="t" style="left:1415.50px;top:1413.40px;font-size:20px;line-height:22.34px;color:#afeeee;letter-spacing:-0.437px;">3 Apr 22:30</div>
<div class="abs" style="left:1545.5px;top:1407px;width:2px;height:6px;background:#afeeee"></div>
<div class="t" style="left:1543.50px;top:1413.40px;font-size:20px;line-height:22.34px;color:#afeeee;letter-spacing:-0.437px;">4 Apr 14:30</div>
<div class="abs" style="left:1673.5px;top:1407px;width:2px;height:6px;background:#afeeee"></div>
<div class="t" style="left:1671.50px;top:1413.40px;font-size:20px;line-height:22.34px;color:#afeeee;letter-spacing:-0.437px;">5 Apr 06:30</div>
<div class="abs" style="left:1801.5px;top:1407px;width:2px;height:6px;background:#afeeee"></div>
<div class="t" style="left:1799.50px;top:1413.40px;font-size:20px;line-height:22.34px;color:#afeeee;letter-spacing:-0.437px;">5 Apr 22:30</div>
<div class="abs" style="left:1929.5px;top:1407px;width:2px;height:6px;background:#afeeee"></div>
<div class="t" style="left:1927.50px;top:1413.40px;font-size:20px;line-height:22.34px;color:#afeeee;letter-spacing:-0.437px;">6 Apr 14:30</div>
<div class="abs" style="left:2057.5px;top:1407px;width:2px;height:6px;background:#afeeee"></div>
<div class="t" style="left:2055.50px;top:1413.40px;font-size:20px;line-height:22.34px;color:#afeeee;letter-spacing:-0.437px;">7 Apr 06:30</div>
<div class="abs" style="left:2185.5px;top:1407px;width:2px;height:6px;background:#afeeee"></div>
<div class="t" style="left:2183.50px;top:1413.40px;font-size:20px;line-height:22.34px;color:#afeeee;letter-spacing:-0.437px;">7 Apr 22:30</div>
<svg class="abs" style="left:16px;top:11px" width="14" height="9" viewBox="0 0 14 9"><path d="M0 0h13L6.5 8z" fill="#afeeee"/></svg>
<div class="t" style="left:39.00px;top:3.35px;font-size:19.5px;line-height:21.78px;color:#afeeee;letter-spacing:-0.270px;">AUDUSD,M15</div>
<div class="t" style="left:16.50px;top:29.35px;font-size:19.5px;line-height:21.78px;color:#afeeee;letter-spacing:0.417px;">CC</div>
<div class="t" style="left:51.80px;top:29.35px;font-size:19.5px;line-height:21.78px;color:#afeeee;">:</div>
<div class="t" style="left:63.00px;top:29.35px;font-size:19.5px;line-height:21.78px;color:#afeeee;letter-spacing:-0.007px;">Sydney</div>
<div class="t" style="left:135.80px;top:29.35px;font-size:19.5px;line-height:21.78px;color:#afeeee;">:</div>
<div class="t" style="left:146.60px;top:29.35px;font-size:19.5px;line-height:21.78px;color:#afeeee;letter-spacing:-0.891px;">H12</div>
<div class="t" style="left:187.20px;top:29.35px;font-size:19.5px;line-height:21.78px;color:#afeeee;letter-spacing:-0.944px;">candle</div>
<div class="t" style="left:246.40px;top:29.35px;font-size:19.5px;line-height:21.78px;color:#afeeee;">:</div>
<div class="t" style="left:256.50px;top:29.35px;font-size:19.5px;line-height:21.78px;color:#afeeee;letter-spacing:-0.454px;">0.66811,0.66814,0.66408,0.66643</div>
<div class="abs" style="left:2210px;top:-2px;width:134px;height:33px;background:#000"></div>
<div class="abs" style="left:2212px;top:1px;width:72px;height:28px;background:#ece9d8"></div>
<div class="abs" style="left:2286px;top:1px;width:56px;height:28px;background:#ece9d8"></div>
<div class="t" style="left:2221.50px;top:3.09px;font-size:22px;line-height:24.57px;color:#0000ff;letter-spacing:-1.392px;">WB1</div>
<div class="t" style="left:2294.00px;top:3.09px;font-size:22px;line-height:24.57px;color:#0000ff;letter-spacing:-1.120px;">H12</div>
<svg class="abs" style="left:2189px;top:0" width="20" height="10" viewBox="0 0 20 10"><path d="M0.5 0h18.6L9.8 9z" fill="#afeeee"/></svg>
<div class="abs" style="left:22px;top:60.5px;width:810px;height:4px;background:#e4e4e4"></div>
<div class="abs" style="left:38px;top:60.5px;width:3.5px;height:4px;background:#4a4a4a"></div>
<div class="abs" style="left:832px;top:60.5px;width:144px;height:4px;background:#3e3e3e"></div>
<div class="abs" style="left:902px;top:61px;width:4px;height:3px;background:#d86a6a"></div>
<div class="abs" style="left:912px;top:61px;width:3px;height:3px;background:#1eb1ff"></div>
<div class="abs" style="left:922px;top:61px;width:3px;height:3px;background:#1eb1ff"></div>
<div class="abs" style="left:928px;top:61px;width:3px;height:3px;background:#1eb1ff"></div>
<div class="abs" style="left:932px;top:61px;width:3px;height:3px;background:#1eb1ff"></div>
<div class="abs" style="left:21px;top:60px;width:1px;height:556px;background:#000"></div>
<div class="abs" style="left:22px;top:64px;width:954px;height:3px;background:#e0e0e0"></div>
<div class="abs" style="left:22px;top:63.8px;width:954px;height:45px;background:#111;border-top-left-radius:7px"></div>
<div class="abs" style="left:22px;top:65px;width:954px;height:44px;background:linear-gradient(#454647,#38393a);border-top-left-radius:7px;box-sizing:border-box;border-top:2px solid #7c7d7e"></div>
<div class="abs" style="left:22px;top:107.5px;width:954px;height:1.5px;background:#161616"></div>
<div class="abs" style="left:22px;top:109px;width:954px;height:507px;background:#e6e6e6"></div>
<div class="abs" style="left:38px;top:75px;width:24px;height:24px;border-radius:12px;background:#fe5f57"></div>
<div class="abs" style="left:78px;top:75px;width:24px;height:24px;border-radius:12px;background:#676767"></div>
<div class="abs" style="left:118px;top:75px;width:24px;height:24px;border-radius:12px;background:#55bf3a"></div>
<div class="t" style="left:308.00px;top:73.42px;font-size:25.5px;line-height:28.48px;color:#c6c6c6;letter-spacing:0.984px;">Custom Indicator</div>
<div class="t" style="left:524.20px;top:73.42px;font-size:25.5px;line-height:28.48px;color:#c6c6c6;">-</div>
<div class="t" style="left:540.60px;top:73.42px;font-size:25.5px;line-height:28.48px;color:#c6c6c6;letter-spacing:0.404px;">custom_candles_-_any_time_frame</div>
<div class="abs" style="left:34px;top:163px;width:942px;height:2px;background:#fff"></div>
<div class="abs" style="left:34px;top:163px;width:2px;height:453px;background:#fff"></div>
<div class="tab" style="left:38px;top:127px;width:108px;height:36px"></div>
<div class="t" style="left:62.00px;top:133.89px;font-size:22px;line-height:24.57px;color:#000;letter-spacing:-0.299px;">About</div>
<div class="tab" style="left:147px;top:127px;width:104px;height:36px"></div>
<div class="t" style="left:158.00px;top:133.89px;font-size:22px;line-height:24.57px;color:#000;letter-spacing:-1.541px;">Common</div>
<div class="tab" style="left:251px;top:123px;width:115px;height:42px"></div>
<div class="t" style="left:276.00px;top:131.39px;font-size:22px;line-height:24.57px;color:#000;letter-spacing:0.011px;">Inputs</div>
<div class="tab" style="left:366px;top:127px;width:104px;height:36px"></div>
<div class="t" style="left:385.50px;top:133.89px;font-size:22px;line-height:24.57px;color:#000;letter-spacing:-0.846px;">Colors</div>
<div class="tab" style="left:470px;top:127px;width:139.5px;height:36px"></div>
<div class="t" style="left:481.70px;top:133.89px;font-size:22px;line-height:24.57px;color:#000;letter-spacing:-0.648px;">Visualization</div>
<div class="abs" style="left:58px;top:183px;width:918px;height:418px;background:#808080"></div>
<div class="abs" style="left:60px;top:185px;width:916px;height:416px;background:#404040"></div>
<div class="abs" style="left:62px;top:187px;width:914px;height:412px;background:#fff"></div>
<div class="abs" style="left:58px;top:599px;width:918px;height:2px;background:#fff"></div>
<div class="abs" style="left:62px;top:187px;width:880px;height:30px;background:#e6e6e6"></div>
<div class="abs" style="left:62px;top:216px;width:880px;height:3px;background:#757575"></div>
<div class="abs" style="left:498px;top:187px;width:2px;height:30px;background:#757575"></div>
<div class="abs" style="left:500px;top:187px;width:2px;height:30px;background:#fff"></div>
<div class="abs" style="left:940px;top:187px;width:2px;height:32px;background:#757575"></div>
<div class="abs" style="left:942px;top:187px;width:2px;height:32px;background:#fff"></div>
<div class="t" style="left:73.50px;top:190.59px;font-size:22px;line-height:24.57px;color:#000;letter-spacing:-0.511px;">Variable</div>
<div class="t" style="left:513.30px;top:190.59px;font-size:22px;line-height:24.57px;color:#000;letter-spacing:-0.827px;">Value</div>
<div class="abs" style="left:62px;top:219px;width:882px;height:380px;overflow:hidden">
<div class="abs" style="left:0;top:1px;width:882px;height:39px;background:#ffffff"></div>
<div class="abs" style="left:0;top:39.5px;width:882px;height:2px;background:#c4c4c4;z-index:2"></div>
<svg class="abs" style="left:2px;top:6px" width="32" height="32" viewBox="0 0 32 32"><defs><linearGradient id="gb" x1="0" y1="0" x2="1" y2="1"><stop offset="0" stop-color="#c9e4fb"/><stop offset="1" stop-color="#76ade0"/></linearGradient></defs><path d="M2 1H25L31 7V29L28 31L26 28L23 29L20 26L16 26L13 28L10 26L7 29L4 28L1 30V2Z" fill="url(#gb)" stroke="#6c9bc8" stroke-width="2" stroke-linejoin="miter"/><path d="M23 2V9H30" fill="#9cc4ea" stroke="#6c9bc8" stroke-width="2"/><text x="15" y="22.5" text-anchor="middle" font-family="Liberation Sans" font-weight="bold" font-size="13.5" fill="#00244f" textLength="21" lengthAdjust="spacingAndGlyphs">123</text></svg>
<div class="t" style="left:40.20px;top:12.09px;font-size:22px;line-height:24.57px;color:#000;letter-spacing:-1.400px;">SetGMT</div>
<div class="t" style="left:444.30px;top:12.09px;font-size:22px;line-height:24.57px;color:#000;letter-spacing:-0.832px;">GMT+3</div>
<div class="abs" style="left:0;top:41px;width:882px;height:39px;background:#ebebeb"></div>
<div class="abs" style="left:0;top:79.5px;width:882px;height:2px;background:#c4c4c4;z-index:2"></div>
<svg class="abs" style="left:2px;top:46px" width="32" height="32" viewBox="0 0 32 32"><defs><linearGradient id="gb" x1="0" y1="0" x2="1" y2="1"><stop offset="0" stop-color="#c9e4fb"/><stop offset="1" stop-color="#76ade0"/></linearGradient></defs><path d="M2 1H25L31 7V29L28 31L26 28L23 29L20 26L16 26L13 28L10 26L7 29L4 28L1 30V2Z" fill="url(#gb)" stroke="#6c9bc8" stroke-width="2" stroke-linejoin="miter"/><path d="M23 2V9H30" fill="#9cc4ea" stroke="#6c9bc8" stroke-width="2"/><text x="15" y="22.5" text-anchor="middle" font-family="Liberation Sans" font-weight="bold" font-size="13.5" fill="#00244f" textLength="21" lengthAdjust="spacingAndGlyphs">123</text></svg>
<div class="t" style="left:40.20px;top:52.09px;font-size:22px;line-height:24.57px;color:#000;letter-spacing:-0.784px;">CandleSession</div>
<div class="t" style="left:444.30px;top:52.09px;font-size:22px;line-height:24.57px;color:#000;letter-spacing:-0.364px;">Sydney</div>
<div class="abs" style="left:0;top:81px;width:882px;height:39px;background:#ffffff"></div>
<div class="abs" style="left:0;top:119.5px;width:882px;height:2px;background:#c4c4c4;z-index:2"></div>
<svg class="abs" style="left:2px;top:86px" width="32" height="32" viewBox="0 0 32 32"><defs><linearGradient id="gb" x1="0" y1="0" x2="1" y2="1"><stop offset="0" stop-color="#c9e4fb"/><stop offset="1" stop-color="#76ade0"/></linearGradient></defs><path d="M2 1H25L31 7V29L28 31L26 28L23 29L20 26L16 26L13 28L10 26L7 29L4 28L1 30V2Z" fill="url(#gb)" stroke="#6c9bc8" stroke-width="2" stroke-linejoin="miter"/><path d="M23 2V9H30" fill="#9cc4ea" stroke="#6c9bc8" stroke-width="2"/><text x="15" y="22.5" text-anchor="middle" font-family="Liberation Sans" font-weight="bold" font-size="13.5" fill="#00244f" textLength="21" lengthAdjust="spacingAndGlyphs">123</text></svg>
<div class="t" style="left:40.20px;top:92.09px;font-size:22px;line-height:24.57px;color:#000;letter-spacing:-0.660px;">DefaultCCTF</div>
<div class="t" style="left:444.30px;top:92.09px;font-size:22px;line-height:24.57px;color:#000;letter-spacing:-0.412px;">4 hours</div>
<div class="abs" style="left:0;top:121px;width:882px;height:39px;background:#ebebeb"></div>
<div class="abs" style="left:0;top:159.5px;width:882px;height:2px;background:#c4c4c4;z-index:2"></div>
<svg class="abs" style="left:2px;top:126px" width="32" height="32" viewBox="0 0 32 32"><defs><linearGradient id="gy" x1="0" y1="0" x2="1" y2="1"><stop offset="0" stop-color="#efe79a"/><stop offset="1" stop-color="#d9c95f"/></linearGradient></defs><path d="M2 1H25L31 7V29L28 31L26 28L23 29L20 26L16 26L13 28L10 26L7 29L4 28L1 30V2Z" fill="url(#gy)" stroke="#bfae55" stroke-width="2" stroke-linejoin="miter"/><path d="M23 2V9H30" fill="#efe8a8" stroke="#bfae55" stroke-width="2"/><text x="13" y="22" text-anchor="middle" font-family="Liberation Sans" font-size="19" fill="#4d3e00" stroke="#4d3e00" stroke-width="0.5" textLength="18" lengthAdjust="spacingAndGlyphs">ab</text></svg>
<div class="abs" style="left:41.5px;top:153.5px;width:228px;height:2px;background:#000"></div>
<div class="t" style="left:269.50px;top:132.09px;font-size:22px;line-height:24.57px;color:#000;letter-spacing:-0.772px;">Filled_Candle</div>
<div class="abs" style="left:0;top:161px;width:882px;height:39px;background:#ffffff"></div>
<div class="abs" style="left:0;top:199.5px;width:882px;height:2px;background:#c4c4c4;z-index:2"></div>
<svg class="abs" style="left:2px;top:166px" width="32" height="32" viewBox="0 0 32 32"><defs><linearGradient id="go" x1="0" y1="0" x2="1" y2="0"><stop offset="0" stop-color="#ff7a18"/><stop offset="0.5" stop-color="#ffee30"/><stop offset="1" stop-color="#ff7a18"/></linearGradient></defs><path d="M2 1H25L31 7V29L28 31L26 28L23 29L20 26L16 26L13 28L10 26L7 29L4 28L1 30V2Z" fill="#f5f5f5" stroke="#6e6e6e" stroke-width="2" stroke-linejoin="miter"/><path d="M23 2V9H30" fill="#ffffff" stroke="#6e6e6e" stroke-width="2"/><rect x="4" y="12" width="22" height="10" fill="#ff7a18"/><rect x="6" y="14" width="18" height="6" fill="url(#go)"/></svg>
<div class="t" style="left:40.20px;top:172.09px;font-size:22px;line-height:24.57px;color:#000;letter-spacing:-0.829px;">UpFilledColor</div>
<div class="sw" style="left:446px;top:168.5px;background:#4682b4"></div>
<div class="t" style="left:476.20px;top:172.09px;font-size:22px;line-height:24.57px;color:#000;letter-spacing:-0.720px;">SteelBlue</div>
<div class="abs" style="left:0;top:201px;width:882px;height:39px;background:#ebebeb"></div>
<div class="abs" style="left:0;top:239.5px;width:882px;height:2px;background:#c4c4c4;z-index:2"></div>
<svg class="abs" style="left:2px;top:206px" width="32" height="32" viewBox="0 0 32 32"><defs><linearGradient id="go" x1="0" y1="0" x2="1" y2="0"><stop offset="0" stop-color="#ff7a18"/><stop offset="0.5" stop-color="#ffee30"/><stop offset="1" stop-color="#ff7a18"/></linearGradient></defs><path d="M2 1H25L31 7V29L28 31L26 28L23 29L20 26L16 26L13 28L10 26L7 29L4 28L1 30V2Z" fill="#f5f5f5" stroke="#6e6e6e" stroke-width="2" stroke-linejoin="miter"/><path d="M23 2V9H30" fill="#ffffff" stroke="#6e6e6e" stroke-width="2"/><rect x="4" y="12" width="22" height="10" fill="#ff7a18"/><rect x="6" y="14" width="18" height="6" fill="url(#go)"/></svg>
<div class="t" style="left:40.20px;top:212.09px;font-size:22px;line-height:24.57px;color:#000;letter-spacing:-0.733px;">DownFilledColor</div>
<div class="sw" style="left:446px;top:208.5px;background:#f08080"></div>
<div class="t" style="left:476.20px;top:212.09px;font-size:22px;line-height:24.57px;color:#000;letter-spacing:-0.428px;">LightCoral</div>
<div class="abs" style="left:0;top:241px;width:882px;height:39px;background:#ffffff"></div>
<div class="abs" style="left:0;top:279.5px;width:882px;height:2px;background:#c4c4c4;z-index:2"></div>
<svg class="abs" style="left:2px;top:246px" width="32" height="32" viewBox="0 0 32 32"><defs><linearGradient id="gy" x1="0" y1="0" x2="1" y2="1"><stop offset="0" stop-color="#efe79a"/><stop offset="1" stop-color="#d9c95f"/></linearGradient></defs><path d="M2 1H25L31 7V29L28 31L26 28L23 29L20 26L16 26L13 28L10 26L7 29L4 28L1 30V2Z" fill="url(#gy)" stroke="#bfae55" stroke-width="2" stroke-linejoin="miter"/><path d="M23 2V9H30" fill="#efe8a8" stroke="#bfae55" stroke-width="2"/><text x="13" y="22" text-anchor="middle" font-family="Liberation Sans" font-size="19" fill="#4d3e00" stroke="#4d3e00" stroke-width="0.5" textLength="18" lengthAdjust="spacingAndGlyphs">ab</text></svg>
<div class="abs" style="left:41.5px;top:273.5px;width:228px;height:2px;background:#000"></div>
<div class="t" style="left:269.50px;top:252.09px;font-size:22px;line-height:24.57px;color:#000;letter-spacing:-0.678px;">Boxed_Candle</div>
<div class="abs" style="left:0;top:281px;width:882px;height:39px;background:#ebebeb"></div>
<div class="abs" style="left:0;top:319.5px;width:882px;height:2px;background:#c4c4c4;z-index:2"></div>
<svg class="abs" style="left:2px;top:286px" width="32" height="32" viewBox="0 0 32 32"><defs><linearGradient id="go" x1="0" y1="0" x2="1" y2="0"><stop offset="0" stop-color="#ff7a18"/><stop offset="0.5" stop-color="#ffee30"/><stop offset="1" stop-color="#ff7a18"/></linearGradient></defs><path d="M2 1H25L31 7V29L28 31L26 28L23 29L20 26L16 26L13 28L10 26L7 29L4 28L1 30V2Z" fill="#f5f5f5" stroke="#6e6e6e" stroke-width="2" stroke-linejoin="miter"/><path d="M23 2V9H30" fill="#ffffff" stroke="#6e6e6e" stroke-width="2"/><rect x="4" y="12" width="22" height="10" fill="#ff7a18"/><rect x="6" y="14" width="18" height="6" fill="url(#go)"/></svg>
<div class="t" style="left:40.20px;top:292.09px;font-size:22px;line-height:24.57px;color:#000;letter-spacing:-0.715px;">UpBoxedColor</div>
<div class="sw" style="left:446px;top:288.5px;background:#4ddfd0"></div>
<div class="t" style="left:476.20px;top:292.09px;font-size:22px;line-height:24.57px;color:#000;letter-spacing:-0.413px;">Turquoise</div>
<div class="abs" style="left:0;top:321px;width:882px;height:39px;background:#ffffff"></div>
<div class="abs" style="left:0;top:359.5px;width:882px;height:2px;background:#c4c4c4;z-index:2"></div>
<svg class="abs" style="left:2px;top:326px" width="32" height="32" viewBox="0 0 32 32"><defs><linearGradient id="go" x1="0" y1="0" x2="1" y2="0"><stop offset="0" stop-color="#ff7a18"/><stop offset="0.5" stop-color="#ffee30"/><stop offset="1" stop-color="#ff7a18"/></linearGradient></defs><path d="M2 1H25L31 7V29L28 31L26 28L23 29L20 26L16 26L13 28L10 26L7 29L4 28L1 30V2Z" fill="#f5f5f5" stroke="#6e6e6e" stroke-width="2" stroke-linejoin="miter"/><path d="M23 2V9H30" fill="#ffffff" stroke="#6e6e6e" stroke-width="2"/><rect x="4" y="12" width="22" height="10" fill="#ff7a18"/><rect x="6" y="14" width="18" height="6" fill="url(#go)"/></svg>
<div class="t" style="left:40.20px;top:332.09px;font-size:22px;line-height:24.57px;color:#000;letter-spacing:-0.586px;">DownBoxedColor</div>
<div class="sw" style="left:446px;top:328.5px;background:#f08080"></div>
<div class="t" style="left:476.20px;top:332.09px;font-size:22px;line-height:24.57px;color:#000;letter-spacing:-0.428px;">LightCoral</div>
<div class="abs" style="left:0;top:361px;width:882px;height:39px;background:#ebebeb"></div>
<div class="abs" style="left:0;top:399.5px;width:882px;height:2px;background:#c4c4c4;z-index:2"></div>
<svg class="abs" style="left:2px;top:366px" width="32" height="32" viewBox="0 0 32 32"><defs><linearGradient id="gy" x1="0" y1="0" x2="1" y2="1"><stop offset="0" stop-color="#efe79a"/><stop offset="1" stop-color="#d9c95f"/></linearGradient></defs><path d="M2 1H25L31 7V29L28 31L26 28L23 29L20 26L16 26L13 28L10 26L7 29L4 28L1 30V2Z" fill="url(#gy)" stroke="#bfae55" stroke-width="2" stroke-linejoin="miter"/><path d="M23 2V9H30" fill="#efe8a8" stroke="#bfae55" stroke-width="2"/><text x="13" y="22" text-anchor="middle" font-family="Liberation Sans" font-size="19" fill="#4d3e00" stroke="#4d3e00" stroke-width="0.5" textLength="18" lengthAdjust="spacingAndGlyphs">ab</text></svg>
<div class="abs" style="left:41.5px;top:393.5px;width:228px;height:2px;background:#000"></div>
<div class="t" style="left:269.50px;top:372.09px;font-size:22px;line-height:24.57px;color:#000;letter-spacing:-0.071px;">Other_Config</div>
<div class="abs" style="left:437.5px;top:0;width:2.5px;height:380px;background:#c6c6c6"></div>
</div>
<div class="abs" style="left:944px;top:187px;width:32px;height:412px;background-color:#fff;background-image:conic-gradient(#dedede 25%, #fff 0 50%, #dedede 0 75%, #fff 0);background-size:4px 4px"></div>
<div class="abs" style="left:944px;top:187px;width:32px;height:32px;background:#e5e5e5;box-sizing:border-box;border-top:2px solid #e5e5e5;border-left:2px solid #e5e5e5;border-right:2px solid #3e3e3e;border-bottom:2px solid #3e3e3e"><div style="width:100%;height:100%;box-sizing:border-box;border-top:2px solid #fff;border-left:2px solid #fff;border-right:2px solid #808080;border-bottom:2px solid #808080"></div></div>
<div class="abs" style="left:944px;top:219px;width:32px;height:164px;background:#e5e5e5;box-sizing:border-box;border-top:2px solid #e5e5e5;border-left:2px solid #e5e5e5;border-right:2px solid #3e3e3e;border-bottom:2px solid #3e3e3e"><div style="width:100%;height:100%;box-sizing:border-box;border-top:2px solid #fff;border-left:2px solid #fff;border-right:2px solid #808080;border-bottom:2px solid #808080"></div></div>
<div class="abs" style="left:944px;top:567px;width:32px;height:32px;background:#e5e5e5;box-sizing:border-box;border-top:2px solid #e5e5e5;border-left:2px solid #e5e5e5;border-right:2px solid #3e3e3e;border-bottom:2px solid #3e3e3e"><div style="width:100%;height:100%;box-sizing:border-box;border-top:2px solid #fff;border-left:2px solid #fff;border-right:2px solid #808080;border-bottom:2px solid #808080"></div></div>
<svg class="abs" style="left:951px;top:196px" width="16" height="10" viewBox="0 0 16 10" shape-rendering="crispEdges"><path d="M7 1h2v2h2v2h2v2h2v2H1V7h2V5h2V3h2z" fill="#000"/></svg>
<svg class="abs" style="left:951px;top:578px" width="16" height="10" viewBox="0 0 16 10" shape-rendering="crispEdges"><path d="M1 1h14v2h-2v2h-2v2h-2v2H7V7H5V5H3V3H1z" fill="#000"/></svg>
<svg class="abs" style="left:90px;top:45px" width="430" height="250" viewBox="90 45 430 250"><path d="M499.3 282.5L121.5 67" stroke="#e02618" stroke-width="7.5" fill="none"/><path d="M102.3 55.5L129.9 56.9L117.7 79.3z" fill="#e02618"/></svg>
</body></html>
